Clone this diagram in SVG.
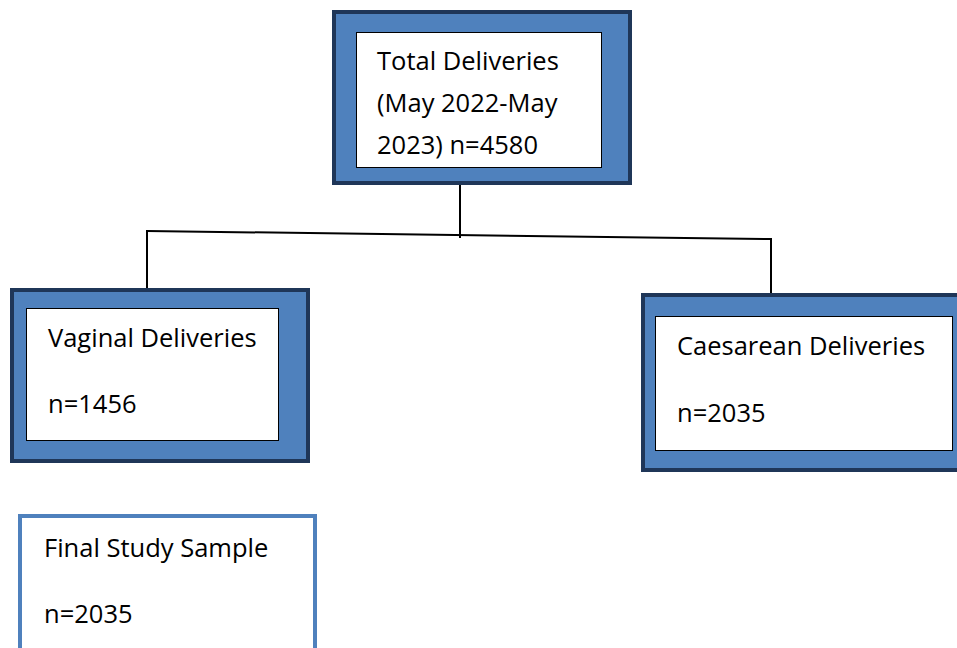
<svg xmlns="http://www.w3.org/2000/svg" width="957" height="648" viewBox="0 0 957 648">
<style>
.outer{fill:#4F81BD;stroke:#1F3658;stroke-width:4}
.inner{fill:#FFFFFF;stroke:#000000;stroke-width:1}
.final{fill:#FFFFFF;stroke:#4F81BD;stroke-width:4}
.t{font-family:"Open Sans","Noto Sans","Liberation Sans",sans-serif;font-size:25.5px;fill:#000000}
.c{stroke:#000000;stroke-width:2;fill:none}
</style>
<rect width="957" height="648" fill="#FFFFFF"/>
<g id="connectors">
<line class="c" x1="460" y1="180" x2="460" y2="238"/>
<line class="c" x1="147" y1="231" x2="771" y2="239"/>
<line class="c" x1="147" y1="230" x2="147" y2="298"/>
<line class="c" x1="771" y1="238" x2="771" y2="301"/>
</g>
<g id="total">
<rect class="outer" x="334" y="12" width="296" height="171"/>
<rect class="inner" x="356.5" y="32.5" width="245" height="135"/>
<text class="t" x="377" y="70">Total Deliveries</text>
<text class="t" x="377" y="112">(May 2022-May</text>
<text class="t" x="377" y="154">2023) n=4580</text>
</g>
<g id="vaginal">
<rect class="outer" x="12" y="290" width="296" height="171"/>
<rect class="inner" x="26.5" y="308.5" width="252" height="132"/>
<text class="t" x="48" y="347">Vaginal Deliveries</text>
<text class="t" x="48" y="413">n=1456</text>
</g>
<g id="caesarean">
<rect class="outer" x="643" y="295" width="320" height="175"/>
<rect class="inner" x="655.5" y="316.5" width="297" height="134"/>
<text class="t" x="677" y="355">Caesarean Deliveries</text>
<text class="t" x="677" y="422">n=2035</text>
</g>
<g id="final">
<rect class="final" x="20" y="516" width="295" height="140"/>
<text class="t" x="44" y="557">Final Study Sample</text>
<text class="t" x="44" y="623">n=2035</text>
</g>
</svg>
